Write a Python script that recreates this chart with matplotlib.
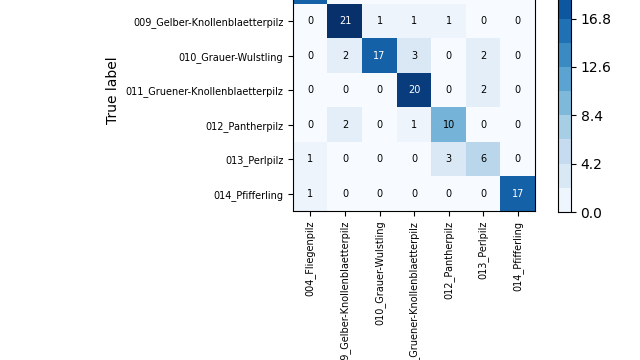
import numpy as np
import matplotlib
matplotlib.use("Agg")
import matplotlib.pyplot as plt

classes = ["004_Fliegenpilz", "009_Gelber-Knollenblaetterpilz", "010_Grauer-Wulstling",
           "011_Gruener-Knollenblaetterpilz", "012_Pantherpilz", "013_Perlpilz", "014_Pfifferling"]

# rows = true label, cols = predicted label (row 004 is cut off in the reference)
row_004 = [17, 0, 0, 0, 0, 0, 0]
row_009 = [0, 21, 1, 1, 1, 0, 0]
row_010 = [0, 2, 17, 3, 0, 2, 0]
row_011 = [0, 0, 0, 20, 0, 2, 0]
row_012 = [0, 2, 0, 1, 10, 0, 0]
row_013 = [1, 0, 0, 0, 3, 6, 0]
row_014 = [1, 0, 0, 0, 0, 0, 17]

cm = np.array([row_004, row_009, row_010, row_011, row_012, row_013, row_014])

fig = plt.figure(figsize=(6.4, 3.6), dpi=100)
ax = fig.add_axes([0.458, 0.411, 0.378, 0.677])
cax = fig.add_axes([0.872, 0.411, 0.020, 0.672])

vmax = cm.max()
im = ax.imshow(cm, interpolation="nearest", cmap=plt.cm.Blues, vmin=0, vmax=vmax)
cb = fig.colorbar(im, cax=cax, boundaries=np.linspace(0, vmax, 11),
                  ticks=np.linspace(0, vmax, 6), format="%.1f")
cb.ax.tick_params(labelsize=10)

ticks = np.arange(len(classes))
ax.set_xticks(ticks)
ax.set_xticklabels(classes, rotation=90, fontsize=7)
ax.set_yticks(ticks)
ax.set_yticklabels(classes, fontsize=7)

thresh = cm.max() / 2.0
for i in range(cm.shape[0]):
    for j in range(cm.shape[1]):
        ax.text(j, i, format(cm[i, j], "d"), ha="center", va="center", fontsize=7,
                color="white" if cm[i, j] > thresh else "black")

ax.set_ylabel("True label", fontsize=10)
ax.set_xlabel("Predicted label", fontsize=10)
ax.set_title("Confusion matrix", fontsize=12)

fig.savefig("out.png", dpi=100)
